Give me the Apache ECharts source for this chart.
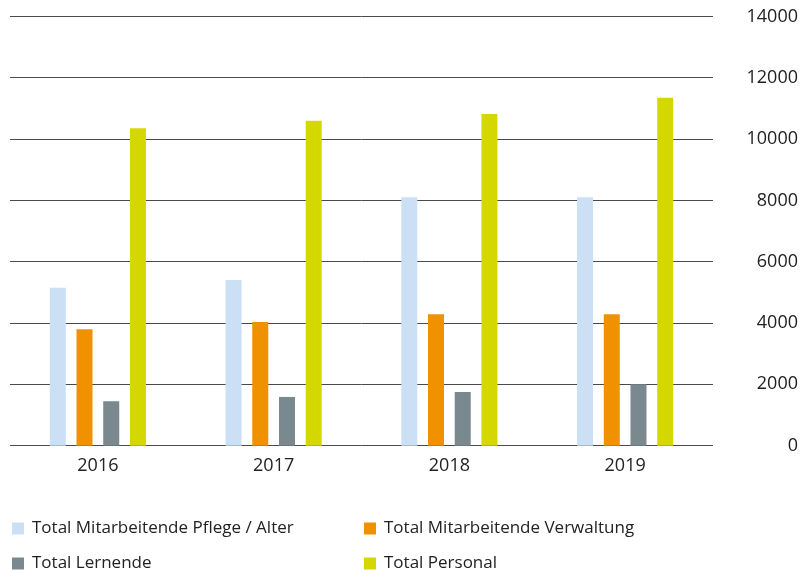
<!DOCTYPE html>
<html>
<head>
<meta charset="utf-8">
<script src="https://cdn.jsdelivr.net/npm/echarts@6/dist/echarts.min.js"></script>
<style>
  html, body { margin: 0; padding: 0; background: #fff; }
  #chart { width: 803px; height: 571px; }
</style>
</head>
<body>
<div id="chart"></div>
<script>
// data
const years = ["2016", "2017", "2018", "2019"];
const pflegeAlter = [5150, 5400, 8100, 8100];
const verwaltung = [3800, 4030, 4290, 4290];
const lernende = [1450, 1590, 1750, 2000];
const personal = [10350, 10600, 10820, 11350];

const names = [
  "Total Mitarbeitende Pflege / Alter",
  "Total Mitarbeitende Verwaltung",
  "Total Lernende",
  "Total Personal",
];
const colors = ["#cbe0f5", "#f09100", "#7a8890", "#d5d800"];
const values = [pflegeAlter, verwaltung, lernende, personal];

// legend slots: [left, top] for each series, two columns, two rows
const legendPos = [[12, 520], [364, 520], [12, 555], [364, 555]];

const font = "'Open Sans', sans-serif";
const chart = echarts.init(document.getElementById("chart"));

chart.setOption({
  animation: false,
  color: colors,
  grid: { left: 10, right: 90, top: 16.4, bottom: 125.3 },
  legend: names.map((n, i) => ({
    data: [n],
    left: legendPos[i][0],
    top: legendPos[i][1],
    padding: 0,
    itemWidth: 12,
    itemHeight: 12,
    itemGap: 0,
    icon: "rect",
    selectedMode: false,
    textStyle: { fontFamily: font, fontSize: 17, color: "#222", padding: [0, 0, 0, 3] },
  })),
  xAxis: {
    type: "category",
    data: years,
    axisLine: { show: false },
    axisTick: { show: false },
    axisLabel: { fontFamily: font, fontSize: 18, color: "#222", margin: 11 },
  },
  yAxis: {
    type: "value",
    position: "right",
    min: 0, max: 14000, interval: 2000,
    axisLine: { show: false },
    axisTick: { show: false },
    axisLabel: {
      fontFamily: font, fontSize: 18, color: "#222",
      align: "right", margin: 85,
      formatter: (v) => String(v),
    },
    splitLine: { lineStyle: { color: "#4a4a4a", width: 1 } },
  },
  series: values.map((v, i) => ({
    name: names[i],
    type: "bar",
    data: v,
    barWidth: 16,
    barGap: "67%",
    itemStyle: { color: colors[i] },
  })),
});
</script>
</body>
</html>
